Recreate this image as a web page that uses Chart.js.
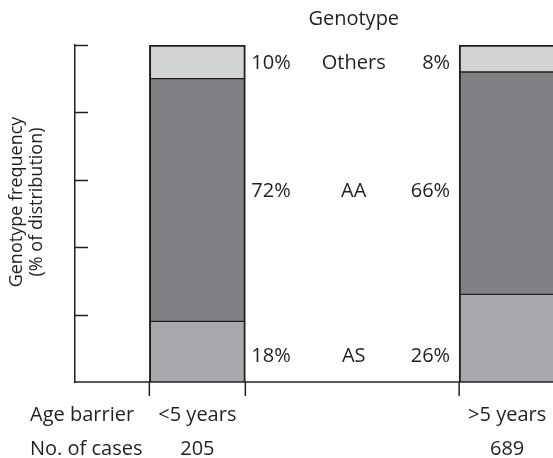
<!DOCTYPE html>
<html>
<head>
<meta charset="utf-8">
<script src="https://cdn.jsdelivr.net/npm/chart.js@4"></script>
<style>
  body { margin: 0; background: #fff; overflow: hidden; }
  #wrap { width: 553px; height: 458px; position: relative; }
</style>
</head>
<body>
<div id="wrap"><canvas id="genoChart"></canvas></div>
<script>
const ageGroups = ['<5 years', '>5 years'];
const caseCounts = ['205', '689'];
const genotypes = ['AS', 'AA', 'Others'];
const asValues = [18, 26];
const aaValues = [72, 66];
const otherValues = [10, 8];
const yTicks = [20, 40, 60, 80, 100];
const yTitle = ['Genotype frequency', '(% of distribution)'];

const ink = '#231f20';
const fontFamily = '"Open Sans", Lato, sans-serif';
const fontSize = 20;
const fillColors = ['#a7a9ac', '#808184', '#d1d2d4'];

function toPoints(values) {
    return values.map((v, i) => ({x: i, y: v}));
}

// tick marks, edge ticks, segment labels and row captions
const annotatePlugin = {
    id: 'annotate',
    afterDatasetsDraw(chart) {
        const ctx = chart.ctx;
        const x = chart.scales.x;
        const y = chart.scales.y;
        const area = chart.chartArea;

        ctx.save();
        ctx.strokeStyle = ink;
        ctx.lineWidth = 1.5;
        yTicks.forEach(t => {
            let py = Math.round(y.getPixelForValue(t)) + 0.5;
            ctx.beginPath();
            ctx.moveTo(area.left, py);
            ctx.lineTo(area.left + 13, py);
            ctx.stroke();
        });

        const bars = chart.getDatasetMeta(0).data;
        bars.forEach(b => {
            [b.x - b.width / 2, b.x + b.width / 2].forEach(ex => {
                ctx.beginPath();
                ctx.moveTo(ex, area.bottom);
                ctx.lineTo(ex, area.bottom + 14);
                ctx.stroke();
            });
        });

        // labels between the two bars
        const series = [asValues, aaValues, otherValues];
        const leftBar = bars[0];
        const rightBar = bars[1];
        const leftX = leftBar.x + leftBar.width / 2 + 6;
        const rightX = rightBar.x - rightBar.width / 2 - 9;
        const midX = (leftX + rightX) / 2;
        let base = [0, 0];
        ctx.fillStyle = ink;
        ctx.font = fontSize + 'px ' + fontFamily;
        ctx.textBaseline = 'middle';
        series.forEach((vals, k) => {
            let lo = Math.max(base[0], base[1]);
            let hi = Math.min(base[0] + vals[0], base[1] + vals[1]);
            let py = y.getPixelForValue((lo + hi) / 2) + 5;
            ctx.textAlign = 'left';
            ctx.fillText(vals[0] + '%', leftX, py);
            ctx.textAlign = 'right';
            ctx.fillText(vals[1] + '%', rightX, py);
            ctx.textAlign = 'center';
            ctx.fillText(genotypes[k], midX + 3, py);
            base = [base[0] + vals[0], base[1] + vals[1]];
        });

        ctx.fillText('Genotype', midX + 3, 19);

        ctx.textAlign = 'left';
        ctx.fillText('Age barrier', 30, x.top + 33);
        ctx.fillText('No. of cases', 30, x.top + 67);

        // rotated y title
        ctx.save();
        ctx.translate(17, 202);
        ctx.rotate(-Math.PI / 2);
        ctx.textAlign = 'center';
        ctx.font = '18px ' + fontFamily;
        yTitle.forEach((line, i) => ctx.fillText(line, 0, i * 20));
        ctx.restore();
        ctx.restore();
    }
};

const ctx = document.getElementById('genoChart').getContext('2d');

const datasets = [asValues, aaValues, otherValues].map((vals, i) => ({
    label: genotypes[i],
    data: toPoints(vals),
    backgroundColor: fillColors[i],
    borderColor: ink,
    borderWidth: {left: 2, right: 2, top: i === 2 ? 2 : 1, bottom: 1},
    borderSkipped: false,
    barThickness: 96
}));

const genoChart = new Chart(ctx, {
    type: 'bar',
    data: {datasets: datasets},
    plugins: [annotatePlugin],
    options: {
        responsive: true,
        maintainAspectRatio: false,
        animation: false,
        layout: {padding: {top: 45, left: 0, right: 0, bottom: 0}},
        plugins: {legend: {display: false}, tooltip: {enabled: false}},
        scales: {
            x: {
                type: 'linear',
                stacked: true,
                offset: false,
                min: -0.395,
                max: 1.148,
                grid: {display: false, drawTicks: false},
                border: {display: true, color: '#58595b', width: 2},
                afterBuildTicks: s => { s.ticks = ageGroups.map((g, i) => ({value: i})); },
                afterFit: s => {
                    s.height = 76;
                    s.paddingLeft = 0;
                    s.paddingRight = 0;
                },
                ticks: {
                    autoSkip: false,
                    maxRotation: 0,
                    padding: 16,
                    color: ink,
                    font: {family: fontFamily, size: fontSize, lineHeight: '34px'},
                    callback: v => [ageGroups[v], caseCounts[v]]
                }
            },
            y: {
                stacked: true,
                min: 0,
                max: 100,
                grid: {display: false, drawTicks: false},
                border: {display: true, color: ink, width: 1.5},
                ticks: {display: false},
                afterFit: s => { s.width = 75; }
            }
        }
    }
});
</script>
</body>
</html>
